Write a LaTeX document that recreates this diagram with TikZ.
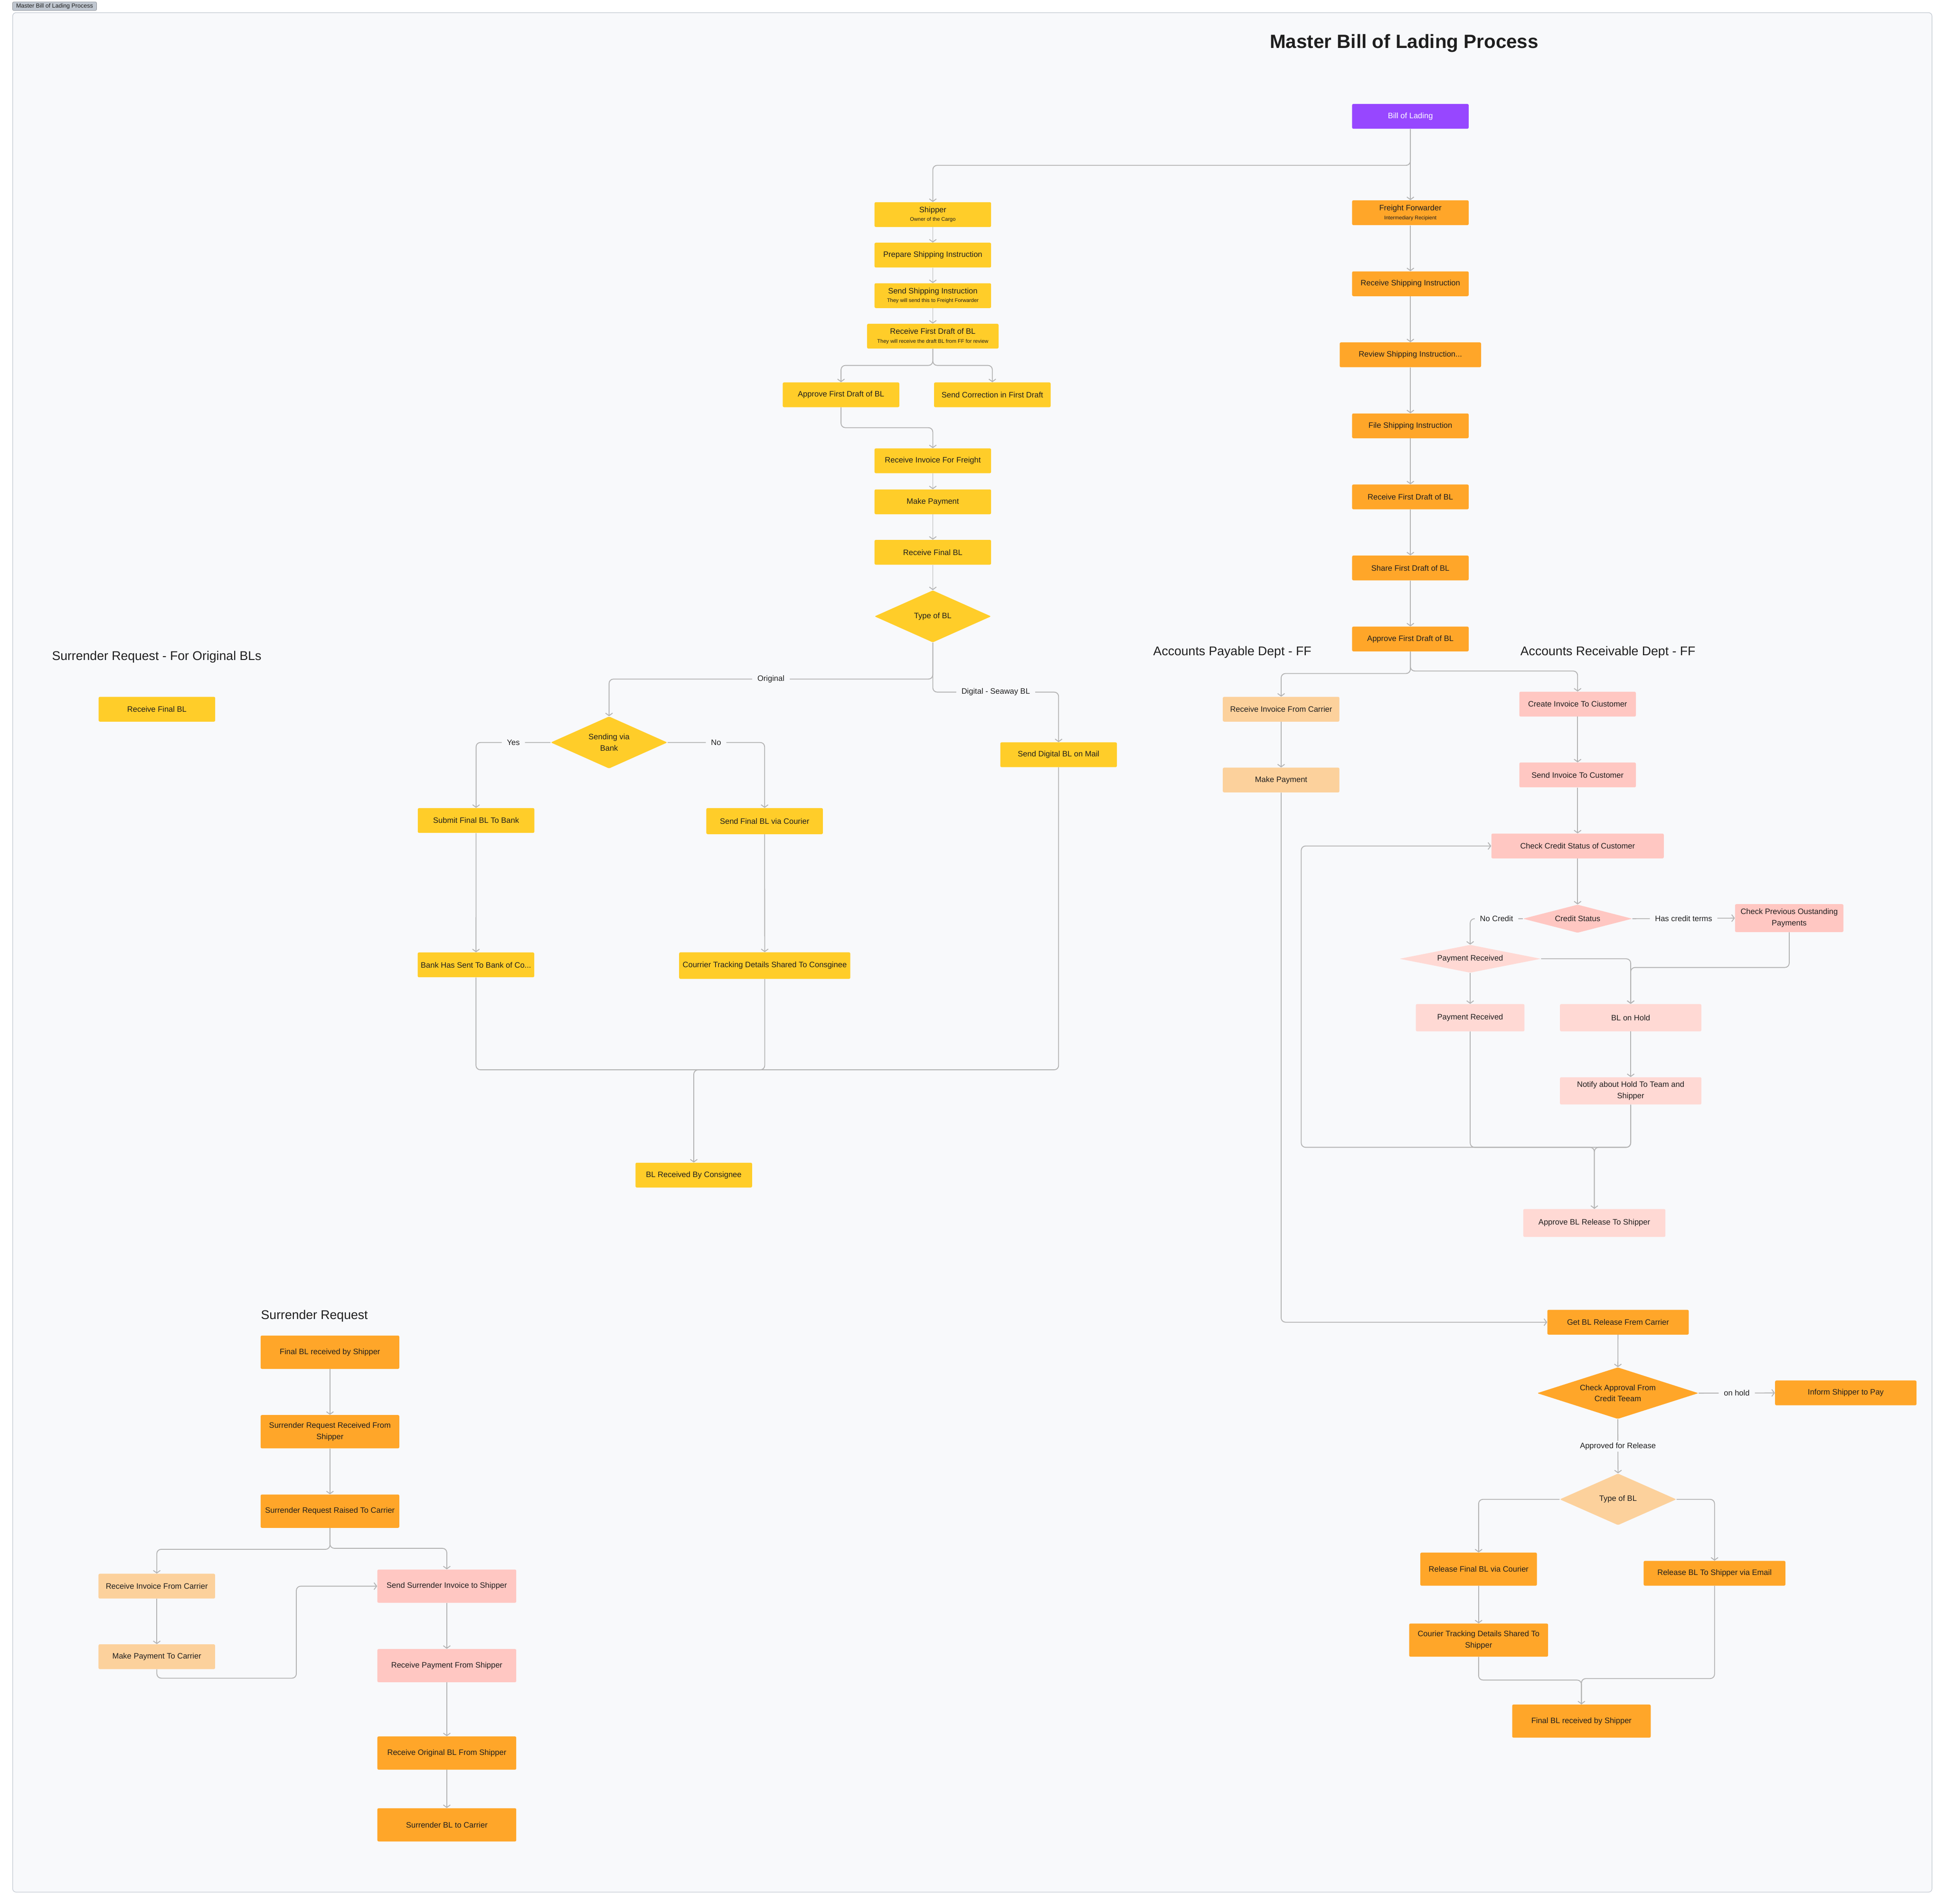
\documentclass[tikz,border=0pt]{standalone}
\usepackage{fontspec}
\setmainfont{Liberation Sans}
\usepackage{xcolor}
\usepackage{tikz}
\usetikzlibrary{arrows.meta,positioning,shapes.geometric}
\definecolor{canvas}{HTML}{F8F9FB}
\definecolor{frameline}{HTML}{C5CBD3}
\definecolor{tagfill}{HTML}{BFC6CF}
\definecolor{ink}{HTML}{1E1E1E}
\definecolor{wire}{HTML}{B3B3B3}
\definecolor{blpurple}{HTML}{9747FF}
\definecolor{blyellow}{HTML}{FFCD29}
\definecolor{blorange}{HTML}{FFA629}
\definecolor{blpeach}{HTML}{FCD19C}
\definecolor{blpink}{HTML}{FFC7C2}
\definecolor{blrose}{HTML}{FFD9D4}
\newcommand{\boxfont}{\fontsize{9}{13}\selectfont}
\newcommand{\subfont}{\fontsize{6}{7}\selectfont}
\newcommand{\headfont}{\fontsize{14.5}{17}\selectfont}

\begin{document}
\begin{tikzpicture}[
  x=0.05cm, y=-0.05cm,
  box/.style={rounded corners=1.5pt,minimum width=4.7cm,minimum height=1cm,
              inner sep=2pt,align=center,font=\boxfont,text=ink},
  ybox/.style={box,fill=blyellow},
  obox/.style={box,fill=blorange},
  pbox/.style={box,fill=blpink},
  dia/.style={diamond,inner sep=0pt,align=center,font=\boxfont,text=ink,rounded corners=1pt},
  ln/.style={draw=wire,line width=1pt,rounded corners=5pt},
  a/.style={ln,-{Straight Barb[length=3pt,width=8pt]}},
  lbl/.style={fill=canvas,font=\boxfont,text=ink,inner xsep=6pt,inner ysep=2pt},
  head/.style={anchor=west,inner sep=0pt,font=\headfont,text=ink}
]
\useasboundingbox (0,0) rectangle (1568,1535);
\fill[white] (0,0) rectangle (1568,1535);
\draw[frameline,fill=canvas,line width=0.7pt,rounded corners=4pt] (10.2,10.2) rectangle (1557.5,1525.5);
\node[fill=tagfill,draw=frameline!70!black,rounded corners=1.5pt,minimum width=3.39cm,minimum height=0.35cm,
      inner sep=0pt,font=\fontsize{6.8}{8}\selectfont,text=ink] (tag) at (44,5) {Master Bill of Lading Process};
\node[font=\fontsize{22}{26}\selectfont\bfseries,text=ink] (title) at (1132,35) {Master Bill of Lading Process};

% section headings
\node[head] (hsro) at (41.8,529.6) {Surrender Request - For Original BLs};
\node[head] (hap) at (929.6,526) {Accounts Payable Dept - FF};
\node[head] (har) at (1225.6,526) {Accounts Receivable Dept - FF};
\node[head] (hsr) at (210.3,1061.1) {Surrender Request};

% freight forwarder
\node[box,fill=blpurple,text=white] (bol) at (1137,93.8) {Bill of Lading};
\node[obox] (ff) at (1137,171.5) {Freight Forwarder\\[-3pt]{\subfont Intermediary Recipient}};
\node[obox,below=1.85cm of ff] (rsi) {Receive Shipping Instruction};
\node[obox,below=1.85cm of rsi,minimum width=5.7cm] (rvsi) {Review Shipping Instruction...};
\node[obox,below=1.85cm of rvsi] (fsi) {File Shipping Instruction};
\node[obox,below=1.85cm of fsi] (ffdraft) {Receive First Draft of BL};
\node[obox,below=1.85cm of ffdraft] (ffshare) {Share First Draft of BL};
\node[obox,below=1.85cm of ffshare] (ffapprove) {Approve First Draft of BL};

% shipper
\node[ybox] (shipper) at (752,173) {Shipper\\[-3pt]{\subfont Owner of the Cargo}};
\node[ybox,below=0.62cm of shipper] (prepsi) {Prepare Shipping Instruction};
\node[ybox,below=0.62cm of prepsi] (sendsi) {Send Shipping Instruction\\[-3pt]{\subfont They will send this to Freight Forwarder}};
\node[ybox,below=0.62cm of sendsi,minimum width=5.3cm] (shdraft) {Receive First Draft of BL\\[-3pt]{\subfont They will receive the draft BL from FF for review}};
\node[ybox] (shapprove) at (678,318.3) {Approve First Draft of BL};
\node[ybox] (shcorrect) at (800,318.3) {Send Correction in First Draft};
\node[ybox] (shinvoice) at (752,371.5) {Receive Invoice For Freight};
\node[ybox,below=0.64cm of shinvoice] (shpay) {Make Payment};
\node[ybox,below=1.02cm of shpay] (shfinal) {Receive Final BL};
\node[dia,fill=blyellow,minimum width=4.7cm,minimum height=2.1cm,aspect=2.24,below=1.02cm of shfinal] (bltype) {Type of BL};
\node[dia,fill=blyellow,minimum width=4.7cm,minimum height=2.1cm,aspect=2.24] (viabank) at (491,598.6) {Sending via\\Bank};
\node[ybox] (tobank) at (383.8,661.5) {Submit Final BL To Bank};
\node[ybox,minimum height=1.05cm] (bycourier) at (616.4,662) {Send Final BL via Courier};
\node[ybox] (digital) at (853.4,608.5) {Send Digital BL on Mail};
\node[ybox] (banksent) at (383.7,777.9) {Bank Has Sent To Bank of Co...};
\node[ybox,minimum width=6.9cm,minimum height=1.07cm] (cnstrack) at (616.5,778.5) {Courrier Tracking Details Shared To Consginee};
\node[ybox] (cnsrecv) at (559.3,947.4) {BL Received By Consignee};
\node[ybox] (srofinal) at (126.5,571.8) {Receive Final BL};

% accounts payable / receivable
\node[box,fill=blpeach] (apinvoice) at (1032.8,571.8) {Receive Invoice From Carrier};
\node[box,fill=blpeach,below=1.84cm of apinvoice] (appay) {Make Payment};
\node[pbox] (arcreate) at (1271.8,567.7) {Create Invoice To Ciustomer};
\node[pbox,below=1.84cm of arcreate] (arsend) {Send Invoice To Customer};
\node[pbox,below=1.85cm of arsend,minimum width=6.95cm] (archeck) {Check Credit Status of Customer};
\node[dia,fill=blpink,minimum width=4.4cm,minimum height=1.135cm,aspect=3.9,below=1.85cm of archeck] (arcredit) {Credit Status};
\node[pbox,minimum width=4.37cm,minimum height=1.125cm] (arprev) at (1442.4,740.2) {Check Previous Oustanding\\Payments};
\node[dia,fill=blrose,minimum width=5.7cm,minimum height=1.125cm,aspect=5] (arpaid) at (1185.2,773) {Payment Received};
\node[box,fill=blrose,minimum width=4.38cm,minimum height=1.1cm] (arreceived) at (1185.2,820.5) {Payment Received};
\node[box,fill=blrose,minimum width=5.7cm,minimum height=1.1cm] (arhold) at (1314.6,820.5) {BL on Hold};
\node[box,fill=blrose,minimum width=5.7cm,minimum height=1.1cm] (arnotify) at (1314.6,879.5) {Notify about Hold To  Team and\\Shipper};
\node[box,fill=blrose,minimum width=5.73cm,minimum height=1.125cm] (arrelease) at (1285.3,986) {Approve BL Release To Shipper};

% release
\node[obox,minimum width=5.7cm] (getrel) at (1304.4,1066) {Get BL Release Frem Carrier};
\node[dia,fill=blorange,minimum width=6.5cm,minimum height=2.08cm,aspect=3.1] (approval) at (1304.2,1123.2) {Check Approval From\\Credit Teeam};
\node[obox,minimum width=5.7cm] (inform) at (1488,1123) {Inform Shipper to Pay};
\node[dia,fill=blpeach,minimum width=4.7cm,minimum height=2.08cm,aspect=2.26] (reltype) at (1304.4,1208.8) {Type of BL};
\node[obox,minimum height=1.335cm] (relcourier) at (1192,1265.1) {Release Final BL via Courier};
\node[obox,minimum width=5.715cm] (relemail) at (1382.2,1268.4) {Release BL To Shipper via Email};
\node[obox,minimum width=5.6cm,minimum height=1.335cm] (reltrack) at (1192,1322.3) {Courier Tracking Details Shared To\\Shipper};
\node[obox,minimum width=5.585cm,minimum height=1.335cm] (relfinal) at (1274.9,1387.6) {Final BL received by Shipper};

% surrender request
\node[obox,minimum width=5.59cm,minimum height=1.345cm] (srfinal) at (266,1090.2) {Final BL received by Shipper};
\node[obox,minimum width=5.59cm,minimum height=1.345cm,below=1.845cm of srfinal] (srreq) {Surrender Request Received From\\Shipper};
\node[obox,minimum width=5.59cm,minimum height=1.345cm,below=1.845cm of srreq] (srraise) {Surrender Request Raised To Carrier};
\node[box,fill=blpeach] (srinvoice) at (126.4,1278.8) {Receive Invoice From Carrier};
\node[box,fill=blpeach,below=1.83cm of srinvoice] (srpay) {Make Payment To Carrier};
\node[pbox,minimum width=5.6cm,minimum height=1.34cm] (srsend) at (360.2,1278.8) {Send Surrender Invoice to Shipper};
\node[pbox,minimum width=5.6cm,minimum height=1.34cm,below=1.85cm of srsend] (srpayment) {Receive Payment From Shipper};
\node[obox,minimum width=5.6cm,minimum height=1.34cm,below=2.17cm of srpayment] (srorig) {Receive Original BL From Shipper};
\node[obox,minimum width=5.6cm,minimum height=1.34cm,below=1.54cm of srorig] (srsurr) {Surrender BL to Carrier};

% connectors
\draw[a] (bol) -- (ff);
\draw[a] (bol.south) -- (1137,133.3) -| (shipper.north);
\draw[a] (ff) -- (rsi);
\draw[a] (rsi) -- (rvsi);
\draw[a] (rvsi) -- (fsi);
\draw[a] (fsi) -- (ffdraft);
\draw[a] (ffdraft) -- (ffshare);
\draw[a] (ffshare) -- (ffapprove);
\draw[a] (shipper) -- (prepsi);
\draw[a] (prepsi) -- (sendsi);
\draw[a] (sendsi) -- (shdraft);
\draw[a] (shdraft.south) -- (752,294.6) -| (shapprove.north);
\draw[a] (shdraft.south) -- (752,294.6) -| (shcorrect.north);
\draw[a] (shapprove.south) -- (678,344.8) -| (shinvoice.north);
\draw[a] (shinvoice) -- (shpay);
\draw[a] (shpay) -- (shfinal);
\draw[a] (shfinal) -- (bltype);
\draw[a] (bltype.south) -- (752,547.5) -| node[lbl,pos=0.25] {Original} (viabank.north);
\draw[a] (bltype.south) -- (752,558) -| node[lbl,pos=0.25] {Digital - Seaway BL} (digital.north);
\draw[a] (viabank.west) -| node[lbl,pos=0.25] {Yes} (tobank.north);
\draw[a] (viabank.east) -| node[lbl,pos=0.25] {No} (bycourier.north);
\draw[a] (tobank) -- (banksent);
\draw[a] (bycourier) -- (cnstrack);
\coordinate (cnsjoin) at (559.3,862.5);
\draw[ln] (banksent.south) |- (cnsjoin);
\draw[ln] (digital.south) |- (cnsjoin);
\draw[a] (cnstrack.south) |- (cnsjoin) -- (cnsrecv.north);

\draw[a] (ffapprove.south) -- (1137,543) -| (apinvoice.north);
\draw[a] (ffapprove.south) -- (1137,541) -| (arcreate.north);
\draw[a] (apinvoice) -- (appay);
\draw[a] (appay.south) |- (getrel.west);
\draw[a] (arcreate) -- (arsend);
\draw[a] (arsend) -- (archeck);
\draw[a] (archeck) -- (arcredit);
\draw[a] (arcredit.west) -| node[lbl,pos=0.25] {No Credit} (arpaid.north);
\draw[a] (arcredit.east) -- node[lbl] {Has credit terms} (arprev.west);
\draw[a] (arpaid.east) -| (arhold.north);
\draw[a] (arprev.south) -- (1442.4,780) -| (arhold.north);
\draw[a] (arpaid) -- (arreceived);
\draw[a] (arhold) -- (arnotify);
\draw[ln] (arreceived.south) -- (1185.2,925) -| (arrelease.north);
\draw[a] (arnotify.south) -- (1314.6,925) -| (arrelease.north);
\draw[a] (arnotify.south) -- (1314.6,925) -- (1049,925) |- (archeck.west);

\draw[a] (getrel) -- (approval);
\draw[a] (approval.east) -- node[lbl] {on hold} (inform.west);
\draw[a] (approval.south) -- node[lbl] {Approved for Release} (reltype.north);
\draw[a] (reltype.west) -| (relcourier.north);
\draw[a] (reltype.east) -| (relemail.north);
\draw[a] (relcourier) -- (reltrack);
\draw[ln] (relemail.south) -- (1382.2,1353.3) -| (relfinal.north);
\draw[a] (reltrack.south) -- (1192,1354.5) -| (relfinal.north);

\draw[a] (srfinal) -- (srreq);
\draw[a] (srreq) -- (srraise);
\draw[a] (srraise.south) -- (266,1249.1) -| (srinvoice.north);
\draw[a] (srraise.south) -- (266,1248.3) -| (srsend.north);
\draw[a] (srinvoice) -- (srpay);
\draw[a] (srpay.south) -- (126.5,1353) -- (238.9,1353) |- (srsend.west);
\draw[a] (srsend) -- (srpayment);
\draw[a] (srpayment) -- (srorig);
\draw[a] (srorig) -- (srsurr);
\end{tikzpicture}
\end{document}
